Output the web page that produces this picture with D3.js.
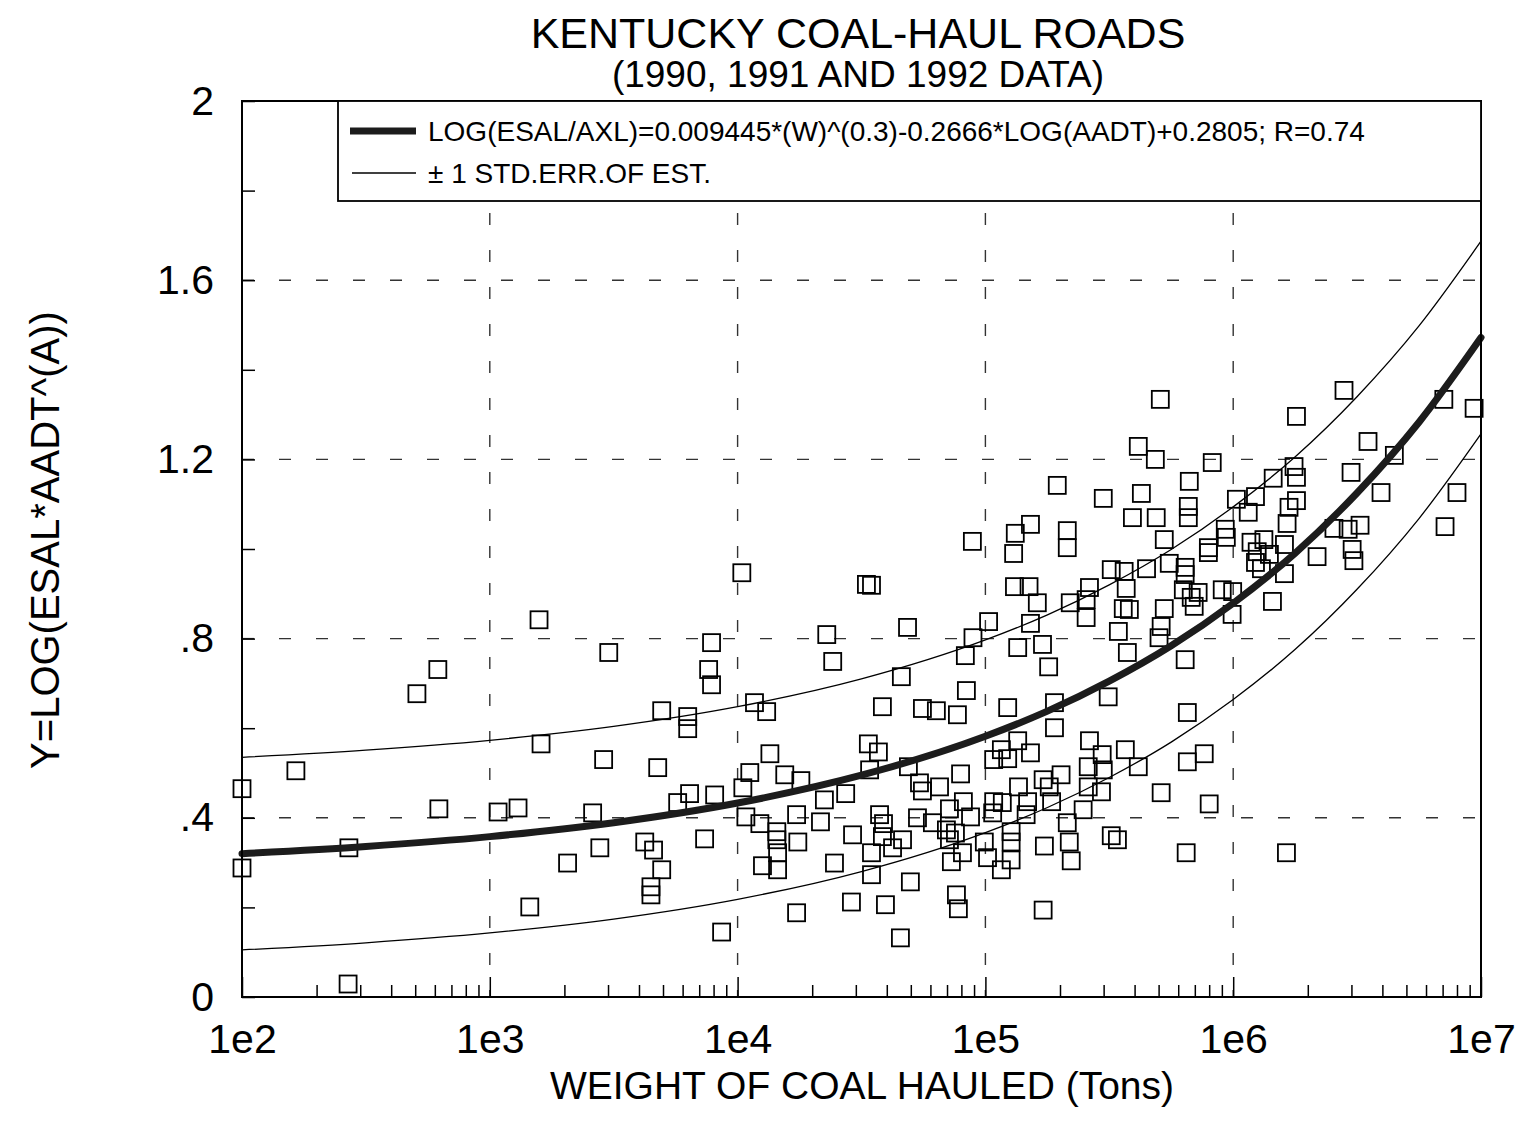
<!DOCTYPE html>
<html>
<head>
<meta charset="utf-8">
<script src="https://cdn.jsdelivr.net/npm/d3@7"></script>
<style>
  html, body { margin: 0; padding: 0; background: #fff; }
  svg text { font-family: "Liberation Sans", Arial, Helvetica, sans-serif; fill: #000; }
</style>
</head>
<body>
<div id="chart"></div>
<script>
// Kentucky coal-haul roads — scatter of Y against weight hauled, with fitted curve and ±1 SE bands

// x tick values and labels
const xTickValues = [1e2, 1e3, 1e4, 1e5, 1e6, 1e7];
const xTickLabels = ['1e2', '1e3', '1e4', '1e5', '1e6', '1e7'];
// y tick values and labels
const yTickValues = [0, 0.4, 0.8, 1.2, 1.6, 2];
const yTickLabels = ['0', '.4', '.8', '1.2', '1.6', '2'];
const yMinorTicks = [0, 0.2, 0.4, 0.6, 0.8, 1.0, 1.2, 1.4, 1.6, 1.8, 2.0];

// fitted curve and ±1 std. error curves
const curveW     = [1e2, 3.16e2, 1e3, 3.16e3, 1e4, 3.16e4, 1e5, 1.78e5, 3.16e5, 5.62e5, 1e6, 1.78e6, 3.16e6, 5.62e6, 1e7];
const fitY       = [0.320, 0.336, 0.358, 0.389, 0.433, 0.495, 0.582, 0.638, 0.705, 0.784, 0.879, 0.991, 1.125, 1.283, 1.472];
const upperY     = [0.535, 0.551, 0.573, 0.604, 0.648, 0.710, 0.797, 0.853, 0.920, 0.999, 1.094, 1.206, 1.340, 1.498, 1.687];
const lowerY     = [0.105, 0.121, 0.143, 0.174, 0.218, 0.280, 0.367, 0.423, 0.490, 0.569, 0.664, 0.776, 0.910, 1.068, 1.257];

// observed points: weight of coal hauled (tons) and Y
const weight = [
  100, 100, 165, 270, 268, 508, 617, 623, 1080, 1300, 1450, 1580, 1610, 2060,
  10400, 33100, 34700, 48500, 22900, 7850, 3020, 24200, 7640, 7850, 45800,
  4940, 6290, 6290, 11700, 13100, 38400, 55700, 63400, 2880, 4760, 13500,
  33700, 37000, 11200, 15500, 18000, 10500, 6400, 5730, 8080, 34100, 48900,
  54200, 55700, 65300, 22400, 27300, 2600, 10800, 12300, 14400, 17300, 21600,
  37400, 38800, 53200, 61100, 71600, 69600, 2780, 4220, 4580, 7360, 14400,
  14500, 17500, 29100, 38400, 46300, 34700, 42200, 71600, 4940, 12600, 14500,
  24600, 34700, 72900, 49800, 4470, 4470, 28800, 39500, 17300, 8620, 45400,
  508000, 414000, 485000, 823000, 195000, 665000, 299000, 426000, 392000, 489000,
  659000, 659000, 88600, 152000, 132000, 214000, 214000, 130000, 527000, 929000,
  938000, 794000, 794000, 322000, 363000, 447000, 552000, 640000, 640000, 131000,
  150000, 162000, 220000, 263000, 255000, 255000, 370000, 360000, 381000, 629000,
  677000, 722000, 696000, 903000, 995000, 990000, 527000, 512000, 502000, 344000,
  103000, 152000, 89100, 83000, 135000, 170000, 180000, 374000, 640000, 83800,
  77100, 123000, 190000, 313000, 653000, 190000, 135000, 116000, 108000, 123000,
  152000, 263000, 296000, 367000, 414000, 653000, 764000, 79400, 171000, 202000,
  260000, 299000, 260000, 294000, 136000, 181000, 512000, 800000, 81500, 108000,
  117000, 148000, 87100, 107000, 146000, 185000, 248000, 214000, 75700, 99000,
  127000, 127000, 173000, 218000, 322000, 341000, 80800, 102000, 127000, 222000,
  116000, 646000, 76400, 77800, 171000,
  2.80e6, 1.80e6, 9.38e6, 7.08e6, 3.50e6, 4.47e6, 2.99e6, 1.76e6, 1.80e6, 1.45e6,
  3.95e6, 8.00e6, 1.23e6, 1.03e6, 1.15e6, 1.80e6, 1.68e6, 1.65e6, 3.25e6, 2.91e6,
  2.55e6, 7.16e6, 1.33e6, 1.18e6, 1.61e6, 1.25e6, 3.02e6, 3.07e6, 2.18e6, 1.40e6,
  1.23e6, 1.30e6, 1.61e6, 1.44e6, 1.64e6
];
const yValue = [
  0.465, 0.288, 0.505, 0.333, 0.029, 0.677, 0.731, 0.420, 0.413, 0.422, 0.201, 0.842, 0.565, 0.299,
  0.947, 0.921, 0.919, 0.825, 0.809, 0.791, 0.769, 0.749, 0.731, 0.697, 0.715,
  0.639, 0.626, 0.599, 0.657, 0.637, 0.648, 0.644, 0.639, 0.530, 0.512, 0.543,
  0.565, 0.547, 0.501, 0.496, 0.483, 0.467, 0.454, 0.434, 0.451, 0.507, 0.514,
  0.478, 0.460, 0.469, 0.440, 0.454, 0.411, 0.402, 0.387, 0.369, 0.407, 0.391,
  0.407, 0.387, 0.400, 0.389, 0.420, 0.373, 0.333, 0.346, 0.328, 0.353, 0.351,
  0.322, 0.346, 0.362, 0.358, 0.351, 0.322, 0.333, 0.351, 0.284, 0.293, 0.284,
  0.299, 0.273, 0.302, 0.257, 0.246, 0.228, 0.212, 0.206, 0.188, 0.145, 0.132,
  1.334, 1.229, 1.200, 1.193, 1.142, 1.151, 1.113, 1.124, 1.070, 1.070,
  1.095, 1.070, 1.017, 1.055, 1.035, 1.041, 1.003, 0.990, 1.021, 1.044,
  1.026, 1.003, 0.992, 0.954, 0.950, 0.956, 0.968, 0.959, 0.943, 0.916,
  0.916, 0.880, 0.880, 0.914, 0.887, 0.847, 0.912, 0.867, 0.865, 0.909,
  0.892, 0.903, 0.872, 0.909, 0.905, 0.854, 0.867, 0.827, 0.802, 0.816,
  0.838, 0.834, 0.802, 0.762, 0.780, 0.787, 0.737, 0.769, 0.753, 0.684,
  0.630, 0.646, 0.657, 0.670, 0.635, 0.601, 0.572, 0.552, 0.530, 0.532,
  0.545, 0.572, 0.541, 0.552, 0.514, 0.525, 0.543, 0.498, 0.485, 0.496,
  0.514, 0.507, 0.469, 0.458, 0.469, 0.469, 0.456, 0.431, 0.436, 0.436,
  0.434, 0.436, 0.402, 0.411, 0.407, 0.436, 0.418, 0.389, 0.366, 0.346,
  0.369, 0.346, 0.337, 0.346, 0.360, 0.351, 0.322, 0.311, 0.306, 0.304,
  0.284, 0.322, 0.228, 0.197, 0.194,
  1.354, 1.296, 1.314, 1.334, 1.240, 1.209, 1.171, 1.184, 1.160, 1.158,
  1.126, 1.126, 1.117, 1.111, 1.082, 1.108, 1.093, 1.057, 1.053, 1.044,
  1.046, 1.050, 1.021, 1.015, 1.010, 0.994, 0.999, 0.974, 0.983, 0.988,
  0.970, 0.956, 0.945, 0.883, 0.322
];

const width = 1523;
const height = 1129;
const margin = { left: 242, right: 42, top: 101, bottom: 132 };
const plotL = margin.left, plotR = width - margin.right;
const plotT = margin.top, plotB = height - margin.bottom;
const legendL = 338, legendB = 201;

const svg = d3.select('#chart')
  .append('svg')
  .attr('width', width)
  .attr('height', height)
  .attr('viewBox', [0, 0, width, height]);

const x = d3.scaleLog().domain([1e2, 1e7]).range([plotL, plotR]);
const y = d3.scaleLinear().domain([0, 2]).range([plotB, plotT]);

// Title
svg.append('text')
  .attr('x', 858).attr('y', 48)
  .attr('text-anchor', 'middle')
  .attr('font-size', 43)
  .text('KENTUCKY COAL-HAUL ROADS');
svg.append('text')
  .attr('x', 858).attr('y', 87)
  .attr('text-anchor', 'middle')
  .attr('font-size', 37)
  .text('(1990, 1991 AND 1992 DATA)');

// Dashed grid
const grid = svg.append('g')
  .attr('stroke', '#333')
  .attr('stroke-width', 1.4)
  .attr('stroke-dasharray', '12,25');
grid.selectAll('line.h')
  .data(yTickValues.filter(v => v > 0 && v < 2))
  .join('line')
  .attr('class', 'h')
  .attr('x1', plotL).attr('x2', plotR)
  .attr('y1', d => y(d)).attr('y2', d => y(d));
grid.selectAll('line.v')
  .data(xTickValues.slice(1, -1))
  .join('line')
  .attr('class', 'v')
  .attr('x1', d => x(d)).attr('x2', d => x(d))
  .attr('y1', legendB + 12).attr('y2', plotB);

// Y axis: inward ticks every 0.2, labels every 0.4
const yAxis = d3.axisLeft(y)
  .tickValues(yMinorTicks)
  .tickSizeInner(-13)
  .tickSizeOuter(0)
  .tickPadding(28)
  .tickFormat(d => {
    const i = yTickValues.findIndex(v => Math.abs(v - d) < 1e-9);
    return i >= 0 ? yTickLabels[i] : '';
  });
const gy = svg.append('g')
  .attr('transform', `translate(${plotL},0)`)
  .call(yAxis);
gy.select('.domain').remove();
gy.selectAll('line').attr('stroke', '#000').attr('stroke-width', 1.5);
gy.selectAll('text')
  .attr('font-size', 41)
  .attr('font-family', '"Liberation Sans", Arial, Helvetica, sans-serif')
  .attr('fill', '#000');

// X axis: minor ticks 2..9 per decade, longer decade ticks
const gxMinor = svg.append('g')
  .attr('transform', `translate(0,${plotB})`)
  .call(d3.axisBottom(x)
    .tickValues(x.ticks().filter(v => !xTickValues.includes(v)))
    .tickSizeInner(-12)
    .tickSizeOuter(0)
    .tickFormat(''));
gxMinor.select('.domain').remove();
gxMinor.selectAll('line').attr('stroke', '#000').attr('stroke-width', 1.5);

const gx = svg.append('g')
  .attr('transform', `translate(0,${plotB})`)
  .call(d3.axisBottom(x)
    .tickValues(xTickValues)
    .tickSizeInner(-20)
    .tickSizeOuter(0)
    .tickPadding(27)
    .tickFormat((d, i) => xTickLabels[i]));
gx.select('.domain').remove();
gx.selectAll('line').attr('stroke', '#000').attr('stroke-width', 1.5);
gx.selectAll('text')
  .attr('font-size', 41)
  .attr('font-family', '"Liberation Sans", Arial, Helvetica, sans-serif')
  .attr('fill', '#000');

// Axis titles
svg.append('text')
  .attr('x', 862).attr('y', 1099)
  .attr('text-anchor', 'middle')
  .attr('font-size', 39)
  .text('WEIGHT OF COAL HAULED (Tons)');
svg.append('text')
  .attr('transform', 'translate(45,540) rotate(-90)')
  .attr('text-anchor', 'middle')
  .attr('dominant-baseline', 'central')
  .attr('font-size', 40)
  .text('Y=LOG(ESAL*AADT^(A))');

// Curves
const line = (vals) => d3.line()
  .x((d, i) => x(curveW[i]))
  .y(d => y(d))
  .curve(d3.curveMonotoneX)(vals);

svg.append('path')
  .attr('d', line(upperY))
  .attr('fill', 'none')
  .attr('stroke', '#000')
  .attr('stroke-width', 1.3);
svg.append('path')
  .attr('d', line(lowerY))
  .attr('fill', 'none')
  .attr('stroke', '#000')
  .attr('stroke-width', 1.3);

// Points
const points = weight.map((w, i) => ({ w, v: yValue[i] }));
const sq = 17;
svg.append('g')
  .selectAll('rect')
  .data(points)
  .join('rect')
  .attr('x', d => x(d.w) - sq / 2)
  .attr('y', d => y(d.v) - sq / 2)
  .attr('width', sq)
  .attr('height', sq)
  .attr('fill', 'none')
  .attr('stroke', '#000')
  .attr('stroke-width', 1.8);

svg.append('path')
  .attr('d', line(fitY))
  .attr('fill', 'none')
  .attr('stroke', '#1c1c1c')
  .attr('stroke-width', 7)
  .attr('stroke-linecap', 'round');

// Frame
svg.append('rect')
  .attr('x', plotL).attr('y', plotT)
  .attr('width', plotR - plotL).attr('height', plotB - plotT)
  .attr('fill', 'none')
  .attr('stroke', '#000')
  .attr('stroke-width', 2);

// Legend box
const legend = svg.append('g');
legend.append('rect')
  .attr('x', legendL).attr('y', plotT)
  .attr('width', plotR - legendL).attr('height', legendB - plotT)
  .attr('fill', '#fff')
  .attr('stroke', '#000')
  .attr('stroke-width', 1.8);
legend.append('line')
  .attr('x1', 350).attr('x2', 416).attr('y1', 131).attr('y2', 131)
  .attr('stroke', '#1c1c1c').attr('stroke-width', 7);
legend.append('line')
  .attr('x1', 352).attr('x2', 416).attr('y1', 173).attr('y2', 173)
  .attr('stroke', '#000').attr('stroke-width', 1.3);
legend.append('text')
  .attr('x', 428).attr('y', 141)
  .attr('font-size', 28)
  .text('LOG(ESAL/AXL)=0.009445*(W)^(0.3)-0.2666*LOG(AADT)+0.2805; R=0.74');
legend.append('text')
  .attr('x', 428).attr('y', 183)
  .attr('font-size', 28)
  .text('± 1 STD.ERR.OF EST.');
</script>
</body>
</html>
